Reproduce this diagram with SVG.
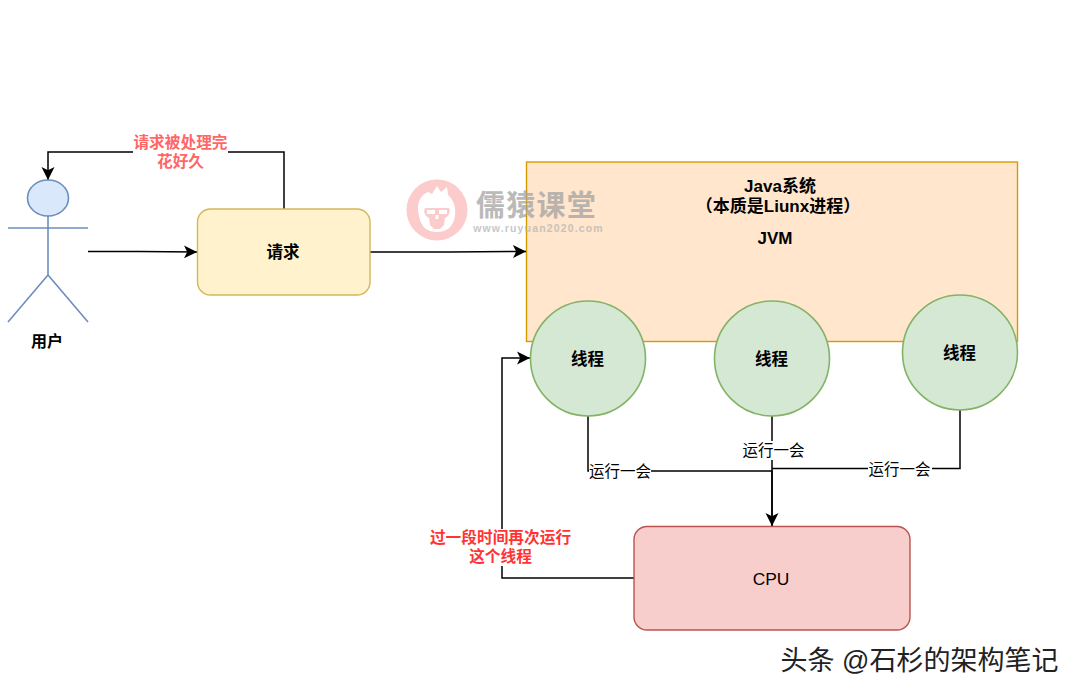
<svg xmlns="http://www.w3.org/2000/svg" width="1080" height="694" viewBox="0 0 1080 694">
<defs>
<marker id="arrow" markerUnits="userSpaceOnUse" markerWidth="14" markerHeight="14" refX="13" refY="7" orient="auto"><path d="M0 0.5L13 7L0 13.5L3.2 7Z" fill="#000"/></marker>
</defs>
<style>
text{font-family:"Liberation Sans","Noto Sans CJK SC",sans-serif;text-anchor:middle;fill:#000}
.b{font-weight:bold;font-size:16px}
.j{font-weight:bold;font-size:17px}
.n{font-weight:bold;font-size:16.500px}
.l{font-size:15.500px}
.r{font-size:15.700px;font-weight:bold}
.c{fill:none;stroke:#000;stroke-width:1.500}
.bg{fill:#fff}
.t{fill:#d5e8d4;stroke:#82b366;stroke-width:1.600}
.a{fill:none;stroke:#6c8ebf;stroke-width:1.600}
</style>
<rect width="1080" height="694" fill="#fff"/>
<g id="jvm"><rect x="526.500" y="162" width="491" height="179.500" fill="#ffe6cc" stroke="#d79b00" stroke-width="1.400"/>
<text class="j" x="780" y="192">Java系统</text><text class="j" x="778" y="212">（本质是Liunx进程）</text><text class="j" x="775" y="244">JVM</text></g>
<g id="watermark" opacity="0.75">
<circle cx="437" cy="210" r="30.500" fill="#fcbcbc"/>
<path d="M419 216C416 204 420 195 428 192L432 194L437 186L441 192L447 187L448 195C454 200 456 208 455 216C453 228 446 232 437 232C428 232 421 228 419 216Z" fill="#fff"/>
<path d="M425 208H449C451 212 449 216 445 218L444 225L440 229H434L430 225L429 218C425 216 423 212 425 208Z" fill="#fcbcbc"/>
<path d="M427 210H435V214H427ZM439 210H447V214H439ZM435.500 215H438.500V219H435.500Z" fill="#fff"/>
<text x="536.500" y="216" style="font-size:29px;font-weight:bold;fill:#a3a3a3;letter-spacing:1.200px">儒猿课堂</text>
<text x="538.500" y="232" style="font-size:10.500px;font-weight:bold;fill:#b5b5b5;letter-spacing:1.150px">www.ruyuan2020.com</text></g>
<g id="connectors">
<path class="c" d="M284 209V152H48V180" marker-end="url(#arrow)"/>
<path class="c" d="M88 251.500H140L197 252" marker-end="url(#arrow)"/>
<path class="c" d="M370 252H450L526 251.500" marker-end="url(#arrow)"/>
<path class="c" d="M588 416V471H772V526" marker-end="url(#arrow)"/>
<path class="c" d="M772 416V526"/>
<path class="c" d="M960 410V468.500H772"/>
<path class="c" d="M634 578H502V358H530" marker-end="url(#arrow)"/>
</g>
<g id="edge-labels">
<rect class="bg" x="133" y="134" width="95" height="37"/>
<text class="r" x="180.500" y="148" style="fill:#ff6666">请求被处理完</text><text class="r" x="180.500" y="167" style="fill:#ff6666">花好久</text>
<rect class="bg" x="589" y="463" width="62" height="17"/><text class="l" x="620" y="477">运行一会</text>
<rect class="bg" x="741" y="441" width="65" height="19"/><text class="l" x="773.500" y="455.500">运行一会</text>
<rect class="bg" x="868" y="460" width="64" height="17"/><text class="l" x="899.500" y="474.500">运行一会</text>
<rect class="bg" x="429" y="529" width="143" height="37"/>
<text class="r" x="500.500" y="543" style="fill:#ff3333">过一段时间再次运行</text><text class="r" x="500.500" y="562" style="fill:#ff3333">这个线程</text>
</g>
<g id="user"><ellipse cx="48" cy="198" rx="20.500" ry="18" fill="#dae8fc" stroke="#6c8ebf" stroke-width="1.600"/>
<path class="a" d="M48 216V275M8 228H88M48 275L8 322M48 275L88 322"/>
<text class="b" x="47" y="347">用户</text></g>
<g id="request"><rect x="197.500" y="209" width="172.500" height="86" rx="13" fill="#fff2cc" stroke="#d6b656" stroke-width="1.400"/><text class="n" x="283" y="258">请求</text></g>
<g id="thread1"><circle class="t" cx="588" cy="358.500" r="57.500"/><text class="n" x="587.500" y="364.500">线程</text></g>
<g id="thread2"><circle class="t" cx="772" cy="358.500" r="57.500"/><text class="n" x="771.500" y="364.500">线程</text></g>
<g id="thread3"><circle class="t" cx="960" cy="352.500" r="57.500"/><text class="n" x="959.500" y="358.500">线程</text></g>
<g id="cpu"><rect x="634" y="526.500" width="276" height="103.500" rx="13" fill="#f8cecc" stroke="#b85450" stroke-width="1.400"/><text x="771" y="584.500" style="font-size:17.400px">CPU</text></g>
<text id="credit" x="919.500" y="669.500" style="font-size:27px;fill:#222">头条 @石杉的架构笔记</text>
</svg>
